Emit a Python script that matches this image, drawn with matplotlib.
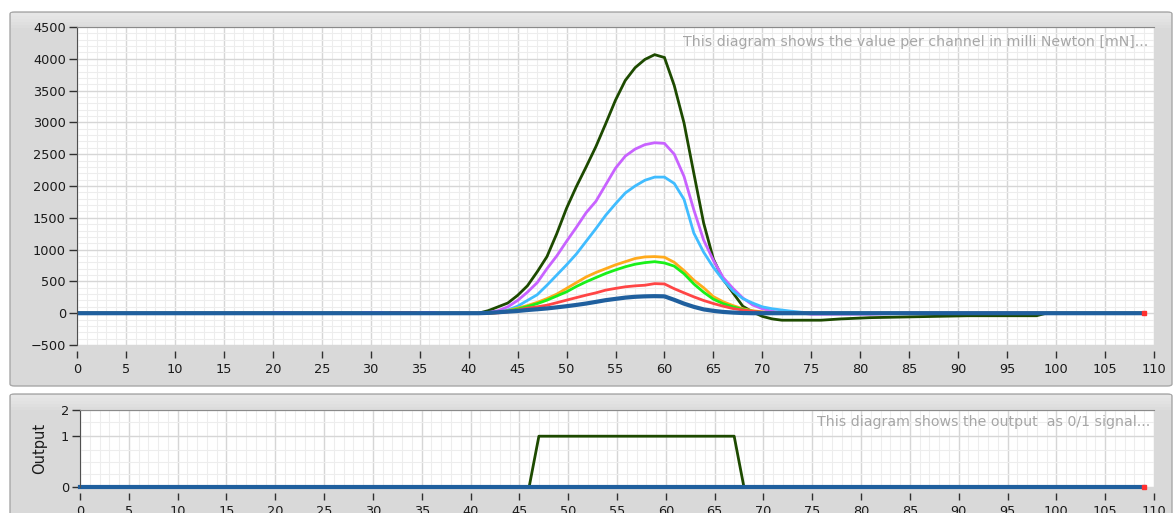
import numpy as np
import matplotlib
matplotlib.use('Agg')
import matplotlib.pyplot as plt
from matplotlib.patches import FancyBboxPatch
from matplotlib.ticker import MultipleLocator, FixedLocator

# x positions of the samples in the active region (s)
x_mid = list(range(40, 77))

# channel values in mN, one value per x in x_mid
dunkelgruen = [0, 0, 40, 100, 160, 280, 430, 650, 890, 1250, 1650, 1990, 2300, 2620, 2980, 3350,
               3660, 3860, 3990, 4065, 4020, 3580, 2990, 2200, 1420, 850, 530, 320, 110, 20,
               -50, -90, -110, -110, -110, -110, -110]
violett = [0, 0, 10, 40, 100, 200, 330, 480, 700, 900, 1130, 1350, 1580, 1760, 2020, 2280,
           2470, 2580, 2650, 2680, 2670, 2500, 2150, 1625, 1150, 830, 560, 390, 240, 130,
           70, 30, 10, 0, 0, -15, -15]
hellblau = [0, 0, 0, 10, 50, 110, 200, 290, 440, 600, 760, 930, 1130, 1330, 1540, 1720,
            1890, 2000, 2090, 2140, 2140, 2040, 1790, 1260, 960, 720, 520, 350, 230, 160,
            100, 70, 50, 30, 15, 0, 0]
orange = [0, 0, 0, 10, 40, 80, 120, 170, 230, 300, 390, 480, 570, 640, 700, 760,
          810, 860, 885, 890, 880, 800, 670, 520, 400, 260, 180, 120, 70, 40,
          20, 5, 0, 0, 0, 0, 0]
gruen = [0, 0, 0, 10, 35, 65, 105, 150, 205, 270, 336, 420, 494, 560, 625, 680,
         730, 770, 795, 810, 790, 740, 620, 460, 330, 220, 150, 100, 60, 30,
         10, 0, 0, 0, 0, 0, 0]
rot = [0, 0, 0, 5, 20, 50, 80, 100, 126, 165, 205, 245, 284, 320, 363, 390,
       415, 430, 440, 465, 460, 385, 320, 257, 200, 152, 110, 73, 50, 30,
       15, 5, 0, 0, 0, 0, 0]
blau = [0, 0, 5, 15, 25, 35, 50, 62, 75, 92, 110, 130, 152, 178, 205, 225,
        245, 258, 265, 268, 265, 210, 150, 100, 60, 37, 20, 10, 3, 0,
        0, 0, 0, 0, 0, 0, 0]

# tails after the active region
x_tail_dg = [78, 81, 86, 91, 98, 99]
y_tail_dg = [-90, -70, -55, -40, -40, 0]
x_tail_v = [81, 85]
y_tail_v = [-15, 0]

# small spikes of the violet / red channel before the peak
blip_x = [[20, 21.5], [29.2, 31.2], [35, 36.5]]
blip_y = [[25, 25], [25, 25], [15, 15]]
blip_rot_x = [32, 34.5]
blip_rot_y = [20, 20]

x_start, x_end = 0, 109

# output signal (0/1)
out_x = [0, 46, 47, 67, 68, 109]
out_y = [0, 0, 1, 1, 0, 0]

farben = {'dg': '#1d4a00', 'v': '#c862ff', 'hb': '#40bcff', 'o': '#ffaa1c',
          'g': '#19f019', 'r': '#ff4545', 'b': '#1f5f9e'}

fig = plt.figure(figsize=(11.74, 5.13), dpi=100)
fig.patch.set_facecolor('white')
W, H = 1174., 513.


def rahmen(x0, y0, x1, y1):
    # grey LabVIEW like panel, pixel coords from top left
    p = FancyBboxPatch((x0 / W, 1 - y1 / H), (x1 - x0) / W, (y1 - y0) / H,
                       boxstyle='round,pad=0,rounding_size=0.004', transform=fig.transFigure,
                       facecolor='#d9d9d9', edgecolor='#a8a8a8', linewidth=1, zorder=-10)
    fig.patches.append(p)
    # light gradient at the top of the panel
    for i, c in enumerate(['#e6e6e6', '#e4e4e4', '#e2e2e2', '#dfdfdf', '#dcdcdc']):
        p2 = FancyBboxPatch((x0 / W + 0.001, 1 - (y0 + 4 + 3 * i) / H), (x1 - x0) / W - 0.002, 3 / H,
                            boxstyle='square,pad=0', transform=fig.transFigure,
                            facecolor=c, edgecolor='none', zorder=-9)
        fig.patches.append(p2)


rahmen(10, 12, 1172, 386)
rahmen(10, 394, 1172, 520)

ax = fig.add_axes([77 / W, 1 - 345 / H, (1154 - 77) / W, (345 - 27) / H])
ax2 = fig.add_axes([80 / W, 1 - 487 / H, (1154 - 80) / W, (487 - 410) / H])


def stil(a):
    a.set_facecolor('white')
    a.xaxis.set_major_locator(MultipleLocator(5))
    a.xaxis.set_minor_locator(MultipleLocator(1))
    a.grid(which='major', color='#d6d6d6', linewidth=1)
    a.grid(which='minor', color='#ededed', linewidth=0.8)
    a.set_axisbelow(True)
    a.spines['bottom'].set_position(('outward', 4))
    for s in ['bottom', 'right']:
        a.spines[s].set_visible(False)
    a.spines['left'].set_color('#505050')
    a.spines['top'].set_color('#8a8a8a')
    a.tick_params(which='major', direction='out', length=6, width=1, color='#303030',
                  labelsize=9.3, labelcolor='#1a1a1a', pad=2)
    a.tick_params(axis='x', length=5, pad=4)
    a.tick_params(which='minor', length=0)
    a.set_xlim(0, 110)


stil(ax)
ax.set_ylim(-500, 4500)
ax.yaxis.set_major_locator(MultipleLocator(500))
ax.yaxis.set_minor_locator(MultipleLocator(100))

x_full = [x_start] + x_mid + [x_end]
reihen = [('dg', dunkelgruen, 2), ('v', violett, 2), ('hb', hellblau, 2), ('o', orange, 2),
          ('g', gruen, 2), ('r', rot, 2)]
for key, werte, lw in reihen:
    if key == 'dg':
        xs = [x_start] + x_mid + x_tail_dg + [x_end]
        ys = [0] + werte + y_tail_dg + [0]
    elif key == 'v':
        xs = [x_start] + x_mid + x_tail_v + [x_end]
        ys = [0] + werte + y_tail_v + [0]
    else:
        xs = x_full
        ys = [0] + werte + [0]
    ax.plot(xs, ys, color=farben[key], linewidth=lw, solid_joinstyle='miter')
for bx, by in zip(blip_x, blip_y):
    ax.plot(bx, by, color=farben['v'], linewidth=2)
ax.plot(blip_rot_x, blip_rot_y, color=farben['r'], linewidth=2)
ax.plot(x_full, [0] + blau + [0], color=farben['b'], linewidth=3)
ax.plot([x_end], [0], 's', color='#ff3030', markersize=2.5)

ax.text(0.9945, 0.975, 'This diagram shows the value per channel in milli Newton [mN]...',
        transform=ax.transAxes, ha='right', va='top', fontsize=10.2, color='#a6a6a6')

# bottom panel: output
stil(ax2)
ax2.set_yscale('function', functions=(lambda v: np.sign(v) * np.abs(v) ** 0.6,
                                      lambda v: np.sign(v) * np.abs(v) ** (1 / 0.6)))
ax2.set_ylim(0, 2)
ax2.yaxis.set_major_locator(FixedLocator([0, 1, 2]))
ax2.yaxis.set_minor_locator(FixedLocator([0.1, 0.3, 0.6, 1.5]))
ax2.grid(which='minor', axis='y', color='#ededed', linewidth=0.8)
ax2.plot(out_x, out_y, color=farben['dg'], linewidth=2, clip_on=False)
ax2.plot(out_x, [0] * len(out_x), color=farben['b'], linewidth=3, clip_on=False)
ax2.plot([x_end], [0], 's', color='#ff3030', markersize=2.5, clip_on=False)
ax2.set_ylabel('Output', fontsize=10.5, color='#1a1a1a', labelpad=10)
ax2.text(0.9965, 0.94, 'This diagram shows the output  as 0/1 signal...',
         transform=ax2.transAxes, ha='right', va='top', fontsize=10.2, color='#a6a6a6')

fig.savefig('out.png', dpi=100)
